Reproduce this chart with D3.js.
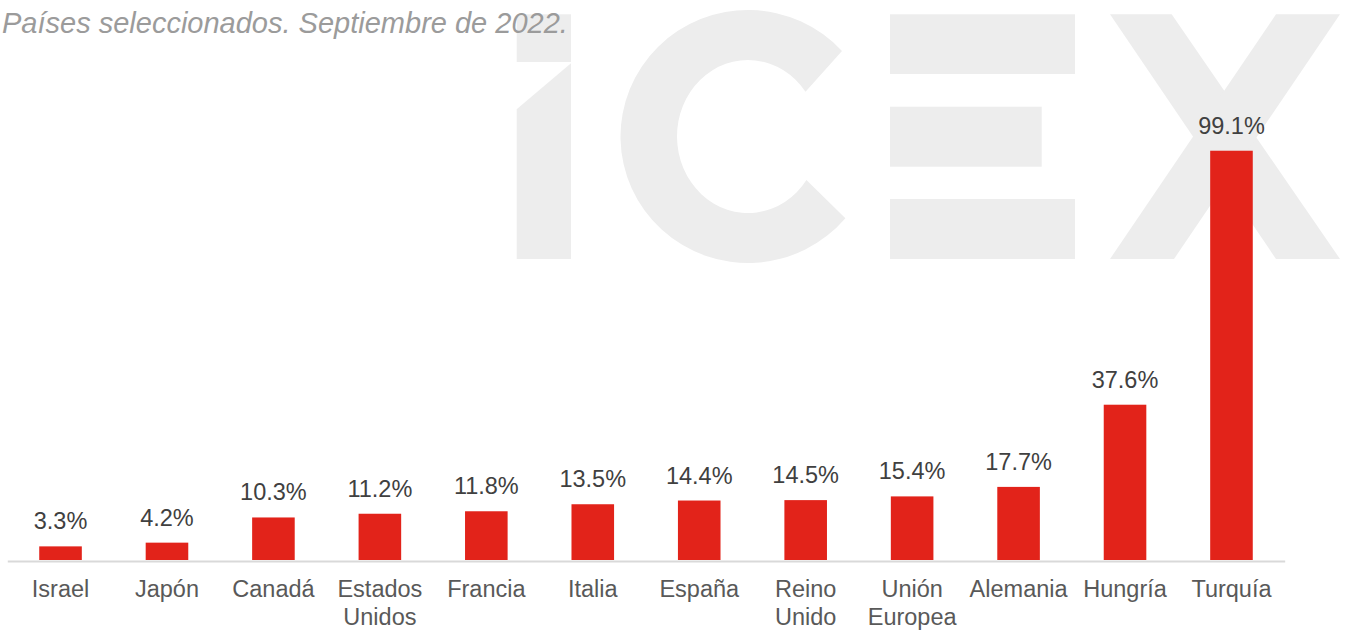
<!DOCTYPE html>
<html>
<head>
<meta charset="utf-8">
<script src="https://cdn.jsdelivr.net/npm/d3@7/dist/d3.min.js"></script>
<style>
  html, body { margin: 0; padding: 0; background: #ffffff; }
  svg { display: block; font-family: "Liberation Sans", Arial, sans-serif; }
</style>
</head>
<body>
<svg id="chart" width="1347" height="630"></svg>
<script>
// ---- data ----
const categories = ["Israel", "Japón", "Canadá", "Estados Unidos", "Francia", "Italia",
                    "España", "Reino Unido", "Unión Europea", "Alemania", "Hungría", "Turquía"];
const categoryLines = [["Israel"], ["Japón"], ["Canadá"], ["Estados", "Unidos"], ["Francia"], ["Italia"],
                       ["España"], ["Reino", "Unido"], ["Unión", "Europea"], ["Alemania"], ["Hungría"], ["Turquía"]];
const values = [3.3, 4.2, 10.3, 11.2, 11.8, 13.5, 14.4, 14.5, 15.4, 17.7, 37.6, 99.1];
const valueLabels = ["3.3%", "4.2%", "10.3%", "11.2%", "11.8%", "13.5%", "14.4%", "14.5%", "15.4%", "17.7%", "37.6%", "99.1%"];
const titleText = "Países seleccionados. Septiembre de 2022.";

const svg = d3.select("#chart");
const W = 1347, H = 630;

// ---- watermark (ICEX logo, light grey) ----
const wm = svg.append("g").attr("fill", "#ededed");
// i
wm.append("rect").attr("x", 516.7).attr("y", 14.3).attr("width", 54.3).attr("height", 47.7);
wm.append("path").attr("d", "M516.7,109.3 L571,63.3 L571,259 L516.7,259 Z");
// C
(function () {
  const cx = 748, cy = 136.5, orx = 127.5, ory = 126.5, irx = 71, iry = 76.5;
  const r = a => a * Math.PI / 180;
  const p = (rx, ry, a) => [cx + rx * Math.cos(r(a)), cy + ry * Math.sin(r(a))];
  const o1 = p(orx, ory, -42.5), o2 = p(orx, ory, 40.2);
  const i2 = p(irx, iry, 34.6), i1 = p(irx, iry, -35.9);
  const d = `M${o1} A${orx},${ory} 0 1 0 ${o2} L${i2} A${irx},${iry} 0 1 1 ${i1} Z`;
  wm.append("path").attr("d", d);
})();
// E
wm.append("rect").attr("x", 890).attr("y", 14.3).attr("width", 185).attr("height", 59.7);
wm.append("rect").attr("x", 890).attr("y", 106.7).attr("width", 151.7).attr("height", 60);
wm.append("rect").attr("x", 890).attr("y", 199).attr("width", 185).attr("height", 60);
// X
wm.append("path").attr("d", "M1110,14.3 L1171.7,14.3 L1340,259 L1276,259 Z");
wm.append("path").attr("d", "M1276,14.3 L1340,14.3 L1174,259 L1110,259 Z");

// ---- title ----
svg.append("text")
  .attr("x", 2).attr("y", 33)
  .attr("font-size", 29).attr("font-style", "italic")
  .attr("fill", "#9b9b9b")
  .text(titleText);

// ---- scales ----
const x = d3.scaleBand()
  .domain(categories)
  .range([7.3, 1284.7])
  .paddingInner(0.6)
  .paddingOuter(0.3);

const y = d3.scaleLinear().domain([0, 100]).range([560, 147]);

// ---- bars ----
svg.append("g").selectAll("rect")
  .data(values)
  .join("rect")
  .attr("x", (d, i) => x(categories[i]))
  .attr("width", x.bandwidth())
  .attr("y", d => y(d))
  .attr("height", d => y(0) - y(d))
  .attr("fill", "#e2231a");

// ---- value labels ----
svg.append("g").selectAll("text")
  .data(values)
  .join("text")
  .attr("x", (d, i) => x(categories[i]) + x.bandwidth() / 2)
  .attr("y", d => y(d) - 17)
  .attr("text-anchor", "middle")
  .attr("font-size", 23.5)
  .attr("fill", "#404040")
  .text((d, i) => valueLabels[i]);

// ---- x axis ----
const xAxis = d3.axisBottom(x).tickSize(0).tickSizeOuter(0).tickFormat(() => "");
const ax = svg.append("g").attr("transform", "translate(0,561)").call(xAxis);
ax.select(".domain").attr("stroke", "#d9d9d9").attr("stroke-width", 2);

ax.selectAll(".tick text").remove();
ax.selectAll(".tick").each(function (d) {
  const i = categories.indexOf(d);
  const t = d3.select(this).append("text")
    .attr("text-anchor", "middle")
    .attr("font-size", 23.5)
    .attr("fill", "#595959");
  categoryLines[i].forEach((line, k) => {
    t.append("tspan").attr("x", 0).attr("y", 36 + k * 28).text(line);
  });
});
</script>
</body>
</html>
